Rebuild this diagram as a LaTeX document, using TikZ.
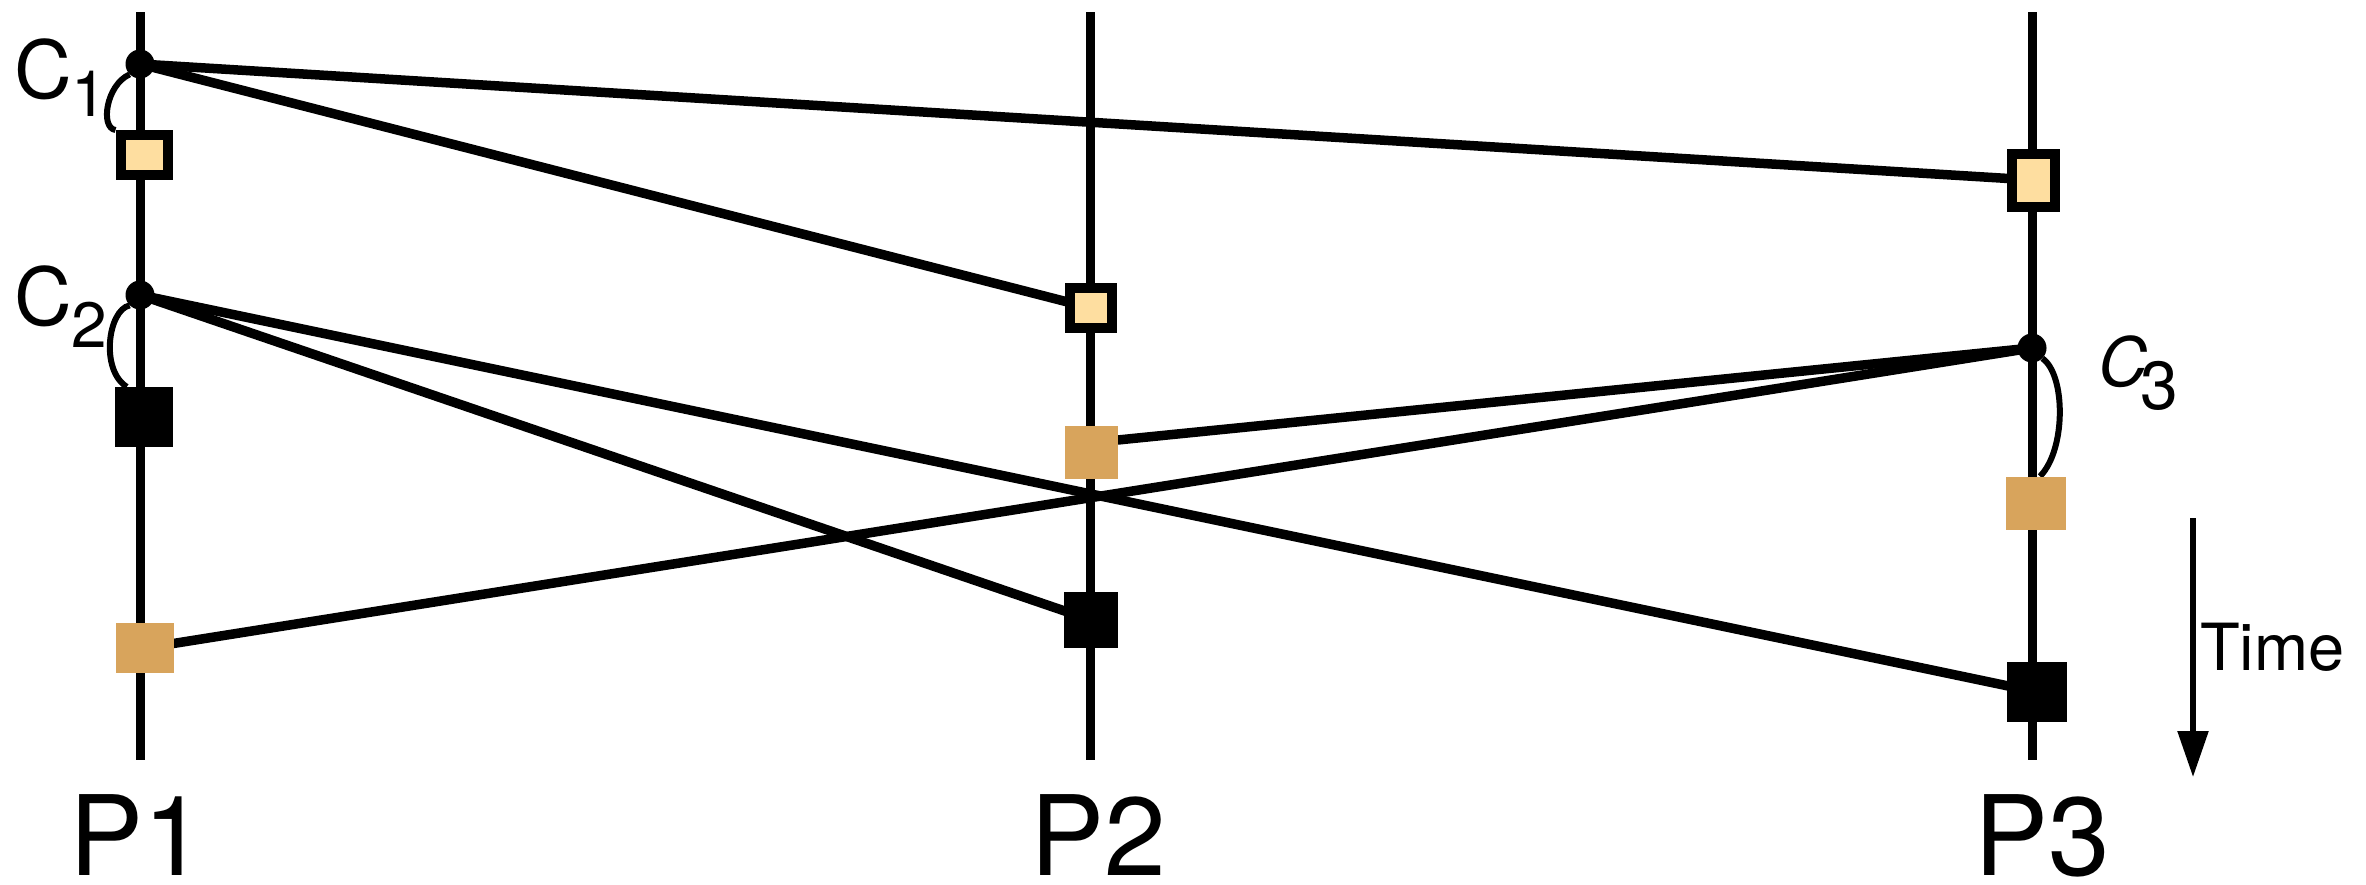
\documentclass[tikz,border=0pt]{standalone}
\usepackage{fontspec}
\setmainfont{TeX Gyre Heros}
\usetikzlibrary{arrows.meta,backgrounds,calc}
\definecolor{lightsq}{RGB}{254,222,160}
\definecolor{tansq}{RGB}{216,164,92}
\begin{document}
\begin{tikzpicture}[x=1pt,y=-1pt,
  proc/.style={line width=9pt},
  msg/.style={line width=9.5pt},
  arcl/.style={line width=6pt},
  ev/.style={circle,fill=black,inner sep=0pt,minimum size=29pt},
  lsq/.style={rectangle,draw=black,line width=10pt,fill=lightsq,inner sep=0pt},
  tsq/.style={rectangle,fill=tansq,inner sep=0pt},
  bsq/.style={rectangle,fill=black,inner sep=0pt},
  plabel/.style={anchor=base,inner sep=0pt,font=\fontsize{111}{111}\selectfont},
  clabel/.style={anchor=base west,inner sep=0pt,font=\fontsize{80}{80}\selectfont},
]
\useasboundingbox (0,0) rectangle (2366,884);
% process lines end points
\coordinate (p1top) at (140,12);  \coordinate (p1bot) at (140,760);
\coordinate (p2top) at (1090,12); \coordinate (p2bot) at (1090,760);
\coordinate (p3top) at (2032,12); \coordinate (p3bot) at (2032,760);
% events
\node[ev] (c1) at (140,64) {};
\node[ev] (c2) at (140,295) {};
\node[ev] (c3) at (2032,348) {};
\node[lsq,minimum width=47pt,minimum height=40pt] (a1) at (144,155) {};
\node[bsq,minimum width=58pt,minimum height=60pt] (b1) at (144,417) {};
\node[tsq,minimum width=58pt,minimum height=50pt] (t1) at (145,648) {};
\node[lsq,minimum width=42pt,minimum height=40pt] (a2) at (1091,308) {};
\node[tsq,minimum width=53pt,minimum height=53pt] (t2) at (1091,452) {};
\node[bsq,minimum width=54pt,minimum height=56pt] (b2) at (1091,620) {};
\node[lsq,minimum width=43pt,minimum height=53pt] (a3) at (2033,180) {};
\node[tsq,minimum width=60pt,minimum height=53pt] (t3) at (2036,503) {};
\node[bsq,minimum width=60pt,minimum height=60pt] (b3) at (2037,692) {};
\begin{scope}[on background layer]
  \draw[proc] (p1top) -- (p1bot);
  \draw[proc] (p2top) -- (p2bot);
  \draw[proc] (p3top) -- (p3bot);
  \draw[msg] (c1.center) -- (a3.center);
  \draw[msg] (c1.center) -- (a2.center);
  \draw[msg] (c2.center) -- (b2.center);
  \draw[msg] (c2.center) -- (b3.center);
  \draw[msg] (c3.center) -- ($(t2.east)+(0,-12)$);
  \draw[msg] (c3.center) -- (t1.center);
  \draw[arcl] (c1.south west) .. controls (106,85) and (100,128) .. (a1.north west);
  \draw[arcl] (c2.south west) .. controls (108,310) and (100,370) .. ($(b1.north west)+(12,0)$);
  \draw[arcl] (c3.south east) .. controls (2066,375) and (2066,450) .. ($(t3.north)+(4,0)$);
\end{scope}
% labels
\node[clabel] (lc1) at (14,98) {C\raisebox{-18pt}{\fontsize{64}{64}\selectfont 1}};
\node[clabel] (lc2) at (14,325) {C\raisebox{-22pt}{\fontsize{64}{64}\selectfont 2}};
\node[anchor=base west,inner sep=0pt,font=\fontsize{68}{68}\selectfont] (lc3) at (2098,386) {\itshape C\kern-7pt\raisebox{-23pt}{\upshape 3}};
\node[plabel] (lp1) at (137,875) {P1};
\node[plabel] (lp2) at (1098,875) {P2};
\node[plabel] (lp3) at (2042,875) {P3};
% time arrow
\coordinate (tt) at (2193,518);
\coordinate (tb) at (2193,777);
\draw[line width=5.5pt,-{Triangle[width=30pt,length=46pt]}] (tt) -- (tb);
\node[anchor=base west,inner sep=0pt,font=\fontsize{65}{65}\selectfont] (ltime) at (2200,670) {Time};
\end{tikzpicture}
\end{document}
